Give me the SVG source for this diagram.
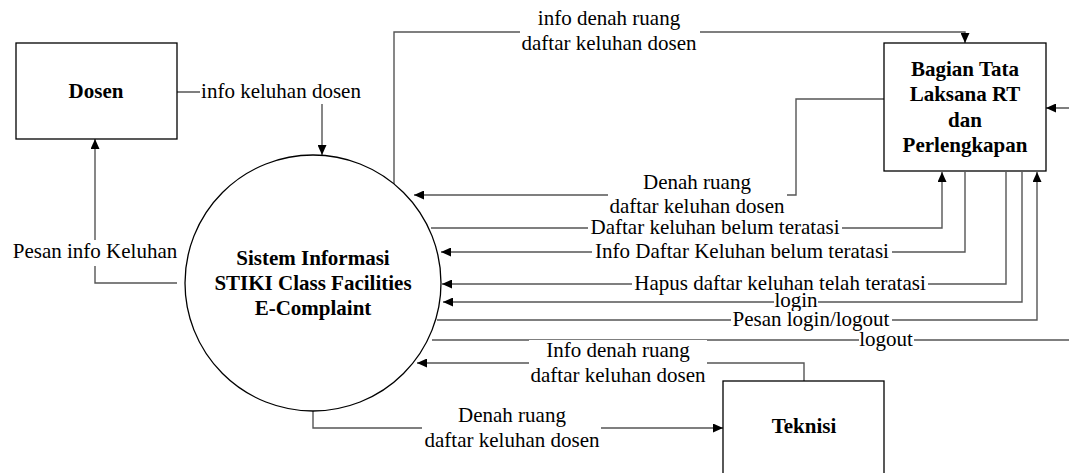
<svg xmlns="http://www.w3.org/2000/svg" width="1069" height="473" viewBox="0 0 1069 473" font-family="'Liberation Serif', 'DejaVu Serif', serif">
<style>
  .box { fill: #fff; stroke: #000; stroke-width: 1.3; }
  .conn { fill: none; stroke: #555; stroke-width: 1.4; }
  .t { font-family: 'Liberation Serif', 'DejaVu Serif', serif; font-size: 21px; fill: #000; text-anchor: middle; }
  .b { font-weight: bold; }
  .bg { fill: #fff; }
</style>
<defs>
  <marker id="arr" markerUnits="userSpaceOnUse" markerWidth="10" markerHeight="9" viewBox="0 0 10 9" refX="10" refY="4.5" orient="auto">
    <path d="M0,0 L10,4.5 L0,9 z" fill="#000"/>
  </marker>
</defs>
<rect width="1069" height="473" fill="#fff"/>

<g id="connectors">
  <path class="conn" d="M177,92 H322 V155" marker-end="url(#arr)"/>
  <path class="conn" d="M394,184 V32 H965 V43" marker-end="url(#arr)"/>
  <path class="conn" d="M884,99 H796 V195 H414" marker-end="url(#arr)"/>
  <path class="conn" d="M431,228 H942 V172" marker-end="url(#arr)"/>
  <path class="conn" d="M965,172 V252 H441" marker-end="url(#arr)"/>
  <path class="conn" d="M1006,172 V284 H442" marker-end="url(#arr)"/>
  <path class="conn" d="M1022,172 V302 H443" marker-end="url(#arr)"/>
  <path class="conn" d="M437,320 H1037 V172" marker-end="url(#arr)"/>
  <path class="conn" d="M432,340 H1080 V108 H1046" marker-end="url(#arr)"/>
  <path class="conn" d="M804,381 V363 H417" marker-end="url(#arr)"/>
  <path class="conn" d="M313,411 V428 H723" marker-end="url(#arr)"/>
  <path class="conn" d="M177,283 H95 V139" marker-end="url(#arr)"/>

  <g id="labels">
    <rect class="bg" x="200" y="78" width="162" height="26"/>
    <text class="t" x="281" y="98">info keluhan dosen</text>

    <rect class="bg" x="520" y="6" width="180" height="50"/>
    <text class="t" x="609" y="25">info denah ruang</text>
    <text class="t" x="609" y="50">daftar keluhan dosen</text>

    <rect class="bg" x="608" y="172" width="179" height="46"/>
    <text class="t" x="697" y="189">Denah ruang</text>
    <text class="t" x="697" y="213">daftar keluhan dosen</text>

    <rect class="bg" x="588" y="215" width="254" height="23"/>
    <text class="t" x="715" y="234">Daftar keluhan belum teratasi</text>

    <rect class="bg" x="592" y="240" width="300" height="22"/>
    <text class="t" x="742" y="258">Info Daftar Keluhan belum teratasi</text>

    <rect class="bg" x="632" y="272" width="296" height="22"/>
    <text class="t" x="780" y="290">Hapus daftar keluhan telah teratasi</text>

    <rect class="bg" x="774" y="293" width="44" height="18"/>
    <text class="t" x="796" y="307">login</text>

    <rect class="bg" x="731" y="311" width="161" height="20"/>
    <text class="t" x="811" y="326">Pesan login/logout</text>

    <rect class="bg" x="859" y="331" width="55" height="20"/>
    <text class="t" x="886" y="346">logout</text>

    <rect class="bg" x="529" y="340" width="178" height="46"/>
    <text class="t" x="618" y="357">Info denah ruang</text>
    <text class="t" x="618" y="382">daftar keluhan dosen</text>

    <rect class="bg" x="422" y="405" width="179" height="47"/>
    <text class="t" x="512" y="422">Denah ruang</text>
    <text class="t" x="512" y="447">daftar keluhan dosen</text>

    <rect class="bg" x="12" y="240" width="166" height="26"/>
    <text class="t" x="95" y="258">Pesan info Keluhan</text>
  </g>
</g>

<g id="dosen">
  <rect class="box" x="16" y="43" width="161" height="96"/>
  <text class="t b" x="96" y="98">Dosen</text>
</g>

<g id="sistem">
  <circle class="box" cx="313" cy="283" r="128"/>
  <text class="t b" x="313" y="265">Sistem Informasi</text>
  <text class="t b" x="313" y="290">STIKI Class Facilities</text>
  <text class="t b" x="313" y="315">E-Complaint</text>
</g>

<g id="bagian">
  <rect class="box" x="884" y="43" width="162" height="128"/>
  <text class="t b" x="965" y="76">Bagian Tata</text>
  <text class="t b" x="965" y="101">Laksana RT</text>
  <text class="t b" x="965" y="127">dan</text>
  <text class="t b" x="965" y="152">Perlengkapan</text>
</g>

<g id="teknisi">
  <rect class="box" x="723" y="381" width="161" height="110"/>
  <text class="t b" x="804" y="433">Teknisi</text>
</g>
</svg>
